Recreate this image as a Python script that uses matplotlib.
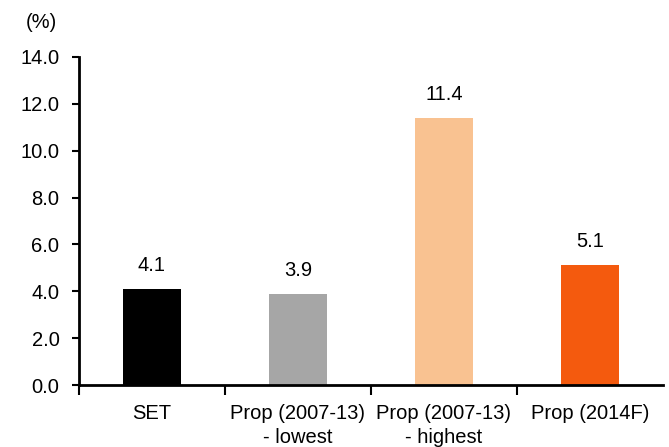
import matplotlib.pyplot as plt
import numpy as np

plt.rcParams['font.family'] = ['Liberation Sans', 'DejaVu Sans']

categories = ["SET", "Prop (2007-13)\n- lowest", "Prop (2007-13)\n- highest", "Prop (2014F)"]
values = [4.1, 3.9, 11.4, 5.1]
colors = ["#000000", "#A6A6A6", "#F9C291", "#F45A0E"]
yticks = np.arange(0, 14.1, 2)

fs = 14.5

fig = plt.figure(figsize=(6.69, 4.47), dpi=100)
ax = fig.add_axes([0.118, 0.1387, 0.873, 0.734])

x = np.arange(len(categories))
ax.bar(x, values, width=0.4, color=colors)

for xi, v in zip(x, values):
    ax.text(xi, v + 0.6, f"{v:.1f}", ha="center", va="bottom", fontsize=fs)

ax.set_xlim(-0.5, len(categories) - 0.5)
ax.set_ylim(0, 14)
ax.set_yticks(yticks)
ax.set_yticklabels([f"{t:.1f}" for t in yticks], fontsize=fs)

# category names sit between the boundary ticks
ax.set_xticks(np.arange(-0.5, len(categories) - 1, 1.0))
ax.set_xticklabels([])
ax.tick_params(axis="x", direction="out", length=7, width=1.5)
ax.tick_params(axis="y", direction="out", length=5, width=1.5, pad=9)
for xi, name in zip(x, categories):
    ax.text(xi, -0.8, name, ha="center", va="top", fontsize=fs,
            linespacing=1.35, transform=ax.transData)

for side in ("top", "right"):
    ax.spines[side].set_visible(False)
for side in ("left", "bottom"):
    ax.spines[side].set_linewidth(2)

fig.text(0.038, 0.95, "(%)", fontsize=fs, ha="left", va="center")

fig.savefig("out.png", dpi=100)
